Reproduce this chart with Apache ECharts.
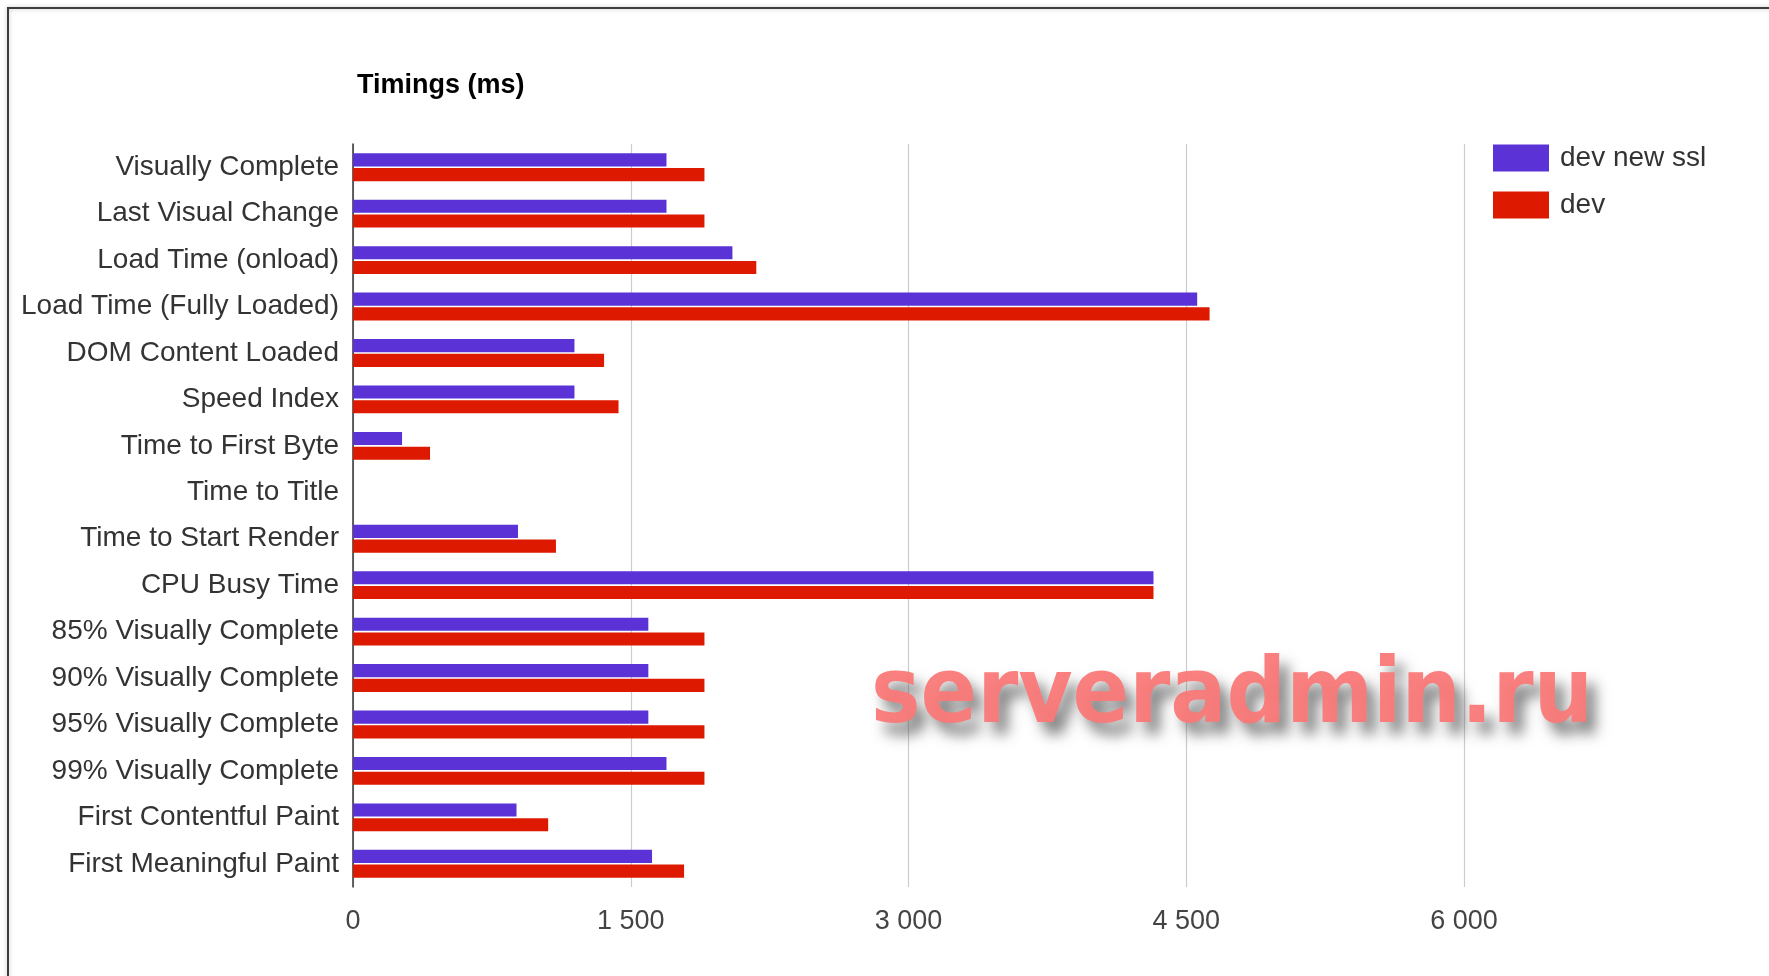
<!DOCTYPE html>
<html>
<head>
<meta charset="utf-8">
<script src="https://cdn.jsdelivr.net/npm/echarts@6/dist/echarts.min.js"></script>
<style>
html,body{margin:0;padding:0;background:#fff;}
#chart{width:1769px;height:976px;}
</style>
</head>
<body>
<div id="chart"></div>
<script>
const categories = [
  'Visually Complete', 'Last Visual Change', 'Load Time (onload)', 'Load Time (Fully Loaded)',
  'DOM Content Loaded', 'Speed Index', 'Time to First Byte', 'Time to Title',
  'Time to Start Render', 'CPU Busy Time', '85% Visually Complete', '90% Visually Complete',
  '95% Visually Complete', '99% Visually Complete', 'First Contentful Paint', 'First Meaningful Paint'
];
const devNewSsl = [1693, 1693, 2049, 4559, 1196, 1196, 265, null, 891, 4323, 1595, 1595, 1595, 1693, 883, 1615];
const dev = [1898, 1898, 2178, 4626, 1356, 1434, 416, null, 1096, 4323, 1898, 1898, 1898, 1898, 1054, 1788];
const xTickValues = [0, 1500, 3000, 4500, 6000];
const xTickLabels = ['0', '1 500', '3 000', '4 500', '6 000'];
const seriesNames = ['dev new ssl', 'dev'];
const titleText = 'Timings (ms)';
const watermarkText = 'serveradmin.ru';

const FONT = 'Arial, "Liberation Sans", sans-serif';
const chart = echarts.init(document.getElementById('chart'));
chart.setOption({
  backgroundColor: '#ffffff',
  animation: false,
  title: {
    text: titleText,
    left: 352, top: 67,
    textStyle: { fontFamily: FONT, fontSize: 27, fontWeight: 'bold', color: '#000' }
  },
  legend: {
    orient: 'vertical',
    left: 1488, top: 139,
    itemWidth: 56, itemHeight: 27, itemGap: 19,
    icon: 'rect',
    data: seriesNames,
    textStyle: { fontFamily: FONT, fontSize: 28, color: '#333', padding: [0, 0, 0, 6] }
  },
  grid: { left: 353, right: 305, top: 144, bottom: 89, containLabel: false },
  xAxis: {
    type: 'value', min: xTickValues[0], max: xTickValues[xTickValues.length - 1], interval: 1500,
    axisLine: { show: false },
    axisTick: { show: false },
    splitLine: { show: true, lineStyle: { color: '#cccccc', width: 1.2 } },
    axisLabel: {
      margin: 21, fontFamily: FONT, fontSize: 27, color: '#444',
      formatter: v => xTickLabels[xTickValues.indexOf(v)]
    }
  },
  yAxis: {
    type: 'category', data: categories, inverse: true,
    axisLine: { show: true, lineStyle: { color: '#333', width: 1.5 } },
    axisTick: { show: false },
    splitLine: { show: false },
    axisLabel: { margin: 14, fontFamily: FONT, fontSize: 28, color: '#333' }
  },
  series: [
    { name: seriesNames[0], type: 'bar', data: devNewSsl, itemStyle: { color: '#5a32d6' },
      barCategoryGap: '40%', barGap: '12%' },
    { name: seriesNames[1], type: 'bar', data: dev, itemStyle: { color: '#dd1a00' },
      barCategoryGap: '40%', barGap: '12%' }
  ],
  graphic: [
    { type: 'rect', z: -10, silent: true,
      shape: { x: 8, y: 8, width: 1800, height: 1000 },
      style: { fill: 'none', stroke: '#3d3d3d', lineWidth: 2, shadowBlur: 4, shadowColor: 'rgba(0,0,0,0.25)' } },
    { type: 'text', z: 100, silent: true,
      x: 871, y: 698, scaleX: 0.916,
      style: {
        text: watermarkText,
        font: 'bold 91px "DejaVu Sans", sans-serif',
        fill: '#fa7878', opacity: 0.95,
        verticalAlign: 'middle', align: 'left',
        textShadowBlur: 14, textShadowColor: 'rgba(90,90,90,0.8)', textShadowOffsetX: 9, textShadowOffsetY: 12
      } }
  ]
});
</script>
</body>
</html>
